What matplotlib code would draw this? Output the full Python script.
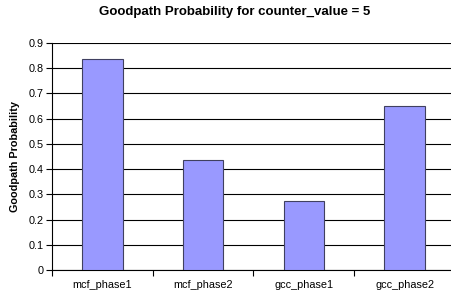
import matplotlib.pyplot as plt
import numpy as np

plt.rcParams['font.family'] = ['Liberation Sans', 'DejaVu Sans']

categories = ['mcf_phase1', 'mcf_phase2', 'gcc_phase1', 'gcc_phase2']
probabilities = [0.835, 0.435, 0.273, 0.652]

fig = plt.figure(figsize=(4.51, 2.96), dpi=100)
ax = fig.add_axes([52 / 451, 26 / 296, 403 / 451, 227 / 296])

x = np.arange(len(categories))
ax.bar(x, probabilities, width=0.4, color='#9999FF', edgecolor='#404060',
       linewidth=0.8, zorder=3)

ax.set_xlim(-0.5, len(categories) - 0.5)
ax.set_ylim(0, 0.9)
ax.set_yticks(np.arange(0, 0.91, 0.1))
ax.set_yticklabels(['0'] + ['%.1f' % v for v in np.arange(0.1, 0.91, 0.1)])
ax.yaxis.grid(True, color='black', linewidth=0.8, zorder=0)

ax.set_xticks(x)
ax.set_xticklabels(categories)
ax.set_xticks(np.arange(-0.5, len(categories)), minor=True)
ax.tick_params(axis='x', which='major', length=0, pad=7, labelsize=7.8)
ax.tick_params(axis='x', which='minor', length=4, width=0.8, direction='out')
ax.tick_params(axis='y', length=4, width=0.8, direction='out', labelsize=7.8, pad=2)

for side in ['top', 'right']:
    ax.spines[side].set_visible(False)
ax.spines['left'].set_linewidth(0.8)
ax.spines['bottom'].set_linewidth(0.8)

ax.set_ylabel('Goodpath Probability', fontsize=7.8, fontweight='bold', labelpad=6)
fig.text(235 / 451, 1 - 12 / 296, 'Goodpath Probability for counter_value = 5',
         ha='center', va='center', fontsize=9.5, fontweight='bold')

fig.savefig('out.png', dpi=100)
